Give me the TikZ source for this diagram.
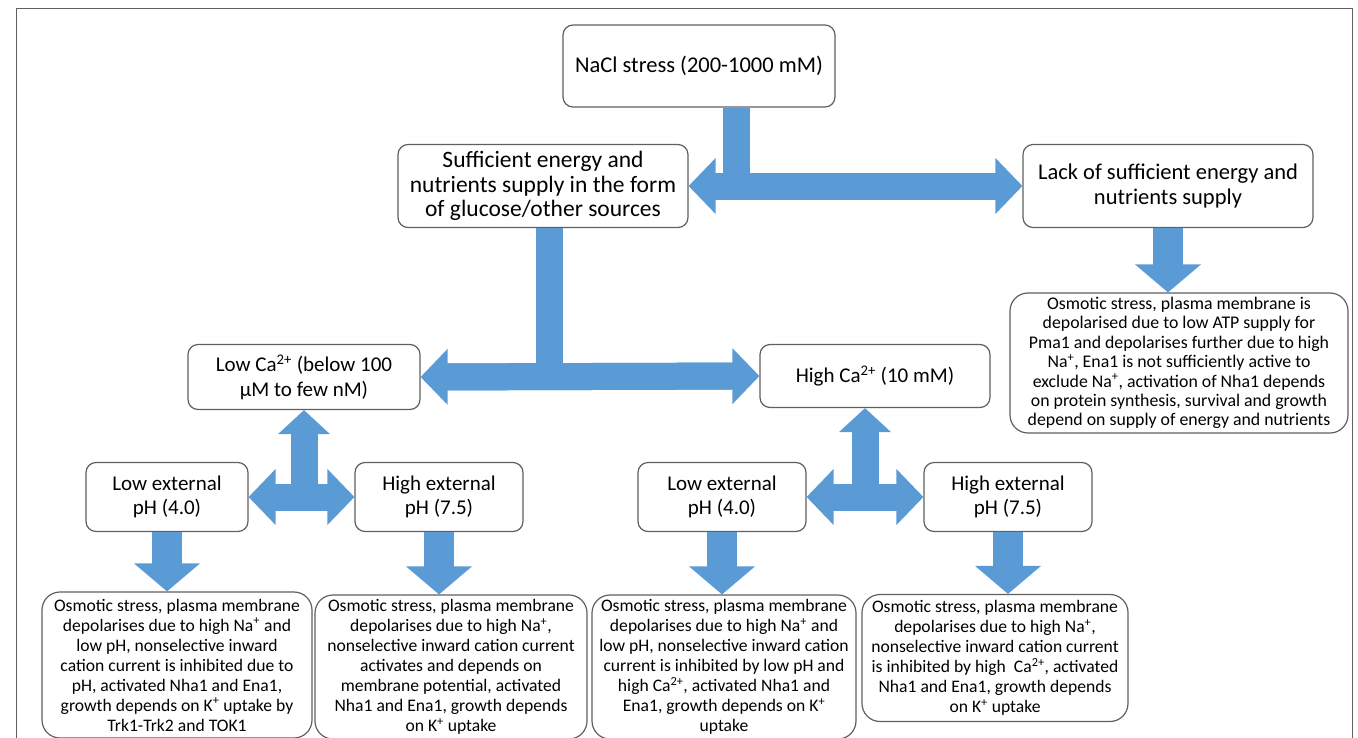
\documentclass[tikz,border=0pt]{standalone}
\usepackage{fontspec}
\setmainfont{Carlito}
\usepackage{tikz}
\usetikzlibrary{arrows.meta, positioning, calc}
\definecolor{arrowblue}{HTML}{5B9BD5}
\definecolor{boxgray}{HTML}{606060}
\tikzstyle{box} = [rectangle, rounded corners=10pt, draw=boxgray, line width=1.2pt, fill=white, align=center, inner sep=2pt, font=\fontsize{21}{24.5}\selectfont]
\tikzstyle{result} = [box, rounded corners=18pt, font=\fontsize{17.6}{20}\selectfont]
\tikzstyle{shaft} = [draw=arrowblue, line width=27pt]
\tikzstyle{barrow} = [shaft, {Triangle[width=56pt,length=27pt,line width=0pt,fill=arrowblue]}-{Triangle[width=56pt,length=27pt,line width=0pt,fill=arrowblue]}, postaction={draw=arrowblue, -, shorten <=20pt, shorten >=20pt}]
\tikzstyle{uparrow} = [shaft, -{Triangle[width=52pt,length=24pt,line width=0pt,fill=arrowblue]}, postaction={draw=arrowblue, -, shorten >=18pt}]
\tikzstyle{downarrow} = [shaft, line width=30pt, -{Triangle[width=66pt,length=28pt,line width=0pt,fill=arrowblue]}, postaction={draw=arrowblue, -, shorten >=21pt}]

\begin{document}
\begin{tikzpicture}[x=1pt, y=-1pt]
\useasboundingbox (0,0) rectangle (1358,737);
\clip (0,0) rectangle (1358,737);
\draw[boxgray, line width=1pt] (16,8) rectangle (1352,780);

\node (nacl) [box, minimum width=272pt, minimum height=82pt, font=\fontsize{22.5}{26}\selectfont] at (699,66) {NaCl stress (200-1000 mM)};
\node (suff) [box, minimum width=290pt, minimum height=83pt, font=\fontsize{23.5}{24.5}\selectfont] at (543,186) {Sufficient energy and\\ nutrients supply in the form\\ of glucose/other sources};
\node (lack) [box, minimum width=290pt, minimum height=83pt, font=\fontsize{22.5}{25}\selectfont] at (1168,186) {Lack of sufficient energy and\\ nutrients supply};
\node (lackres) [result, minimum width=338pt, minimum height=140pt, font=\fontsize{17.8}{19.4}\selectfont] at (1179,363) {Osmotic stress, plasma membrane is\\ depolarised due to low ATP supply for\\ Pma1 and depolarises further due to high\\ Na\textsuperscript{+}, Ena1 is not sufficiently active to\\ exclude Na\textsuperscript{+}, activation of Nha1 depends\\ on protein synthesis, survival and growth\\ depend on supply of energy and nutrients};
\node (lowca) [box, minimum width=232pt, minimum height=65pt] at (304,377) {Low Ca\textsuperscript{2+} (below 100\\ µM to few nM)};
\node (highca) [box, minimum width=230pt, minimum height=63pt] at (875,376) {High Ca\textsuperscript{2+} (10 mM)};
\node (lowphA) [box, minimum width=162pt, minimum height=69pt] at (167,497) {Low external\\ pH (4.0)};
\node (highphA) [box, minimum width=168pt, minimum height=69pt] at (439,497) {High external\\ pH (7.5)};
\node (lowphB) [box, minimum width=168pt, minimum height=69pt] at (722,497) {Low external\\ pH (4.0)};
\node (highphB) [box, minimum width=168pt, minimum height=69pt] at (1008,497) {High external\\ pH (7.5)};
\node (resA) [result, minimum width=270pt, minimum height=146pt] at (177,665) {Osmotic stress, plasma membrane\\ depolarises due to high Na\textsuperscript{+} and\\ low pH, nonselective inward\\ cation current is inhibited due to\\ pH, activated Nha1 and Ena1,\\ growth depends on K\textsuperscript{+} uptake by\\ Trk1-Trk2 and TOK1};
\node (resB) [result, minimum width=272pt, minimum height=144pt] at (451,667) {Osmotic stress, plasma membrane\\ depolarises due to high Na\textsuperscript{+},\\ nonselective inward cation current\\ activates and depends on\\ membrane potential, activated\\ Nha1 and Ena1, growth depends\\ on K\textsuperscript{+} uptake};
\node (resC) [result, minimum width=264pt, minimum height=144pt] at (724,667) {Osmotic stress, plasma membrane\\ depolarises due to high Na\textsuperscript{+} and\\ low pH, nonselective inward cation\\ current is inhibited by low pH and\\ high Ca\textsuperscript{2+}, activated Nha1 and\\ Ena1, growth depends on K\textsuperscript{+}\\ uptake};
\node (resD) [result, minimum width=266pt, minimum height=127pt] at (995,658) {Osmotic stress, plasma membrane\\ depolarises due to high Na\textsuperscript{+},\\ nonselective inward cation current\\ is inhibited by high~ Ca\textsuperscript{2+}, activated\\ Nha1 and Ena1, growth depends\\ on K\textsuperscript{+} uptake};

\coordinate (stemA) at ([xshift=37pt]nacl.south);
\coordinate (stemB) at ([xshift=6pt]suff.south);
\coordinate (midB) at ($(lowphB.east)!0.5!(highphB.west)$);

\draw [shaft] (stemA) -- (stemA |- suff.east);
\draw [barrow] (suff.east) -- (lack.west);
\draw [shaft] (stemB) -- (stemB |- lowca.east);
\draw [barrow] (lowca.east) -- (highca.west);
\draw [uparrow] (lowca.south |- lowphA.east) -- (lowca.south);
\draw [barrow] (lowphA.east) -- (highphA.west);
\draw [uparrow] (midB) -- (midB |- highca.south);
\draw [barrow] (lowphB.east) -- (highphB.west);
\draw [downarrow] (lack.south) -- (lack.south |- lackres.north);
\draw [downarrow] (lowphA.south) -- (lowphA.south |- resA.north);
\draw [downarrow] (highphA.south) -- (highphA.south |- resB.north);
\draw [downarrow] (lowphB.south) -- (lowphB.south |- resC.north);
\draw [downarrow] (highphB.south) -- (highphB.south |- resD.north);

\end{tikzpicture}
\end{document}
